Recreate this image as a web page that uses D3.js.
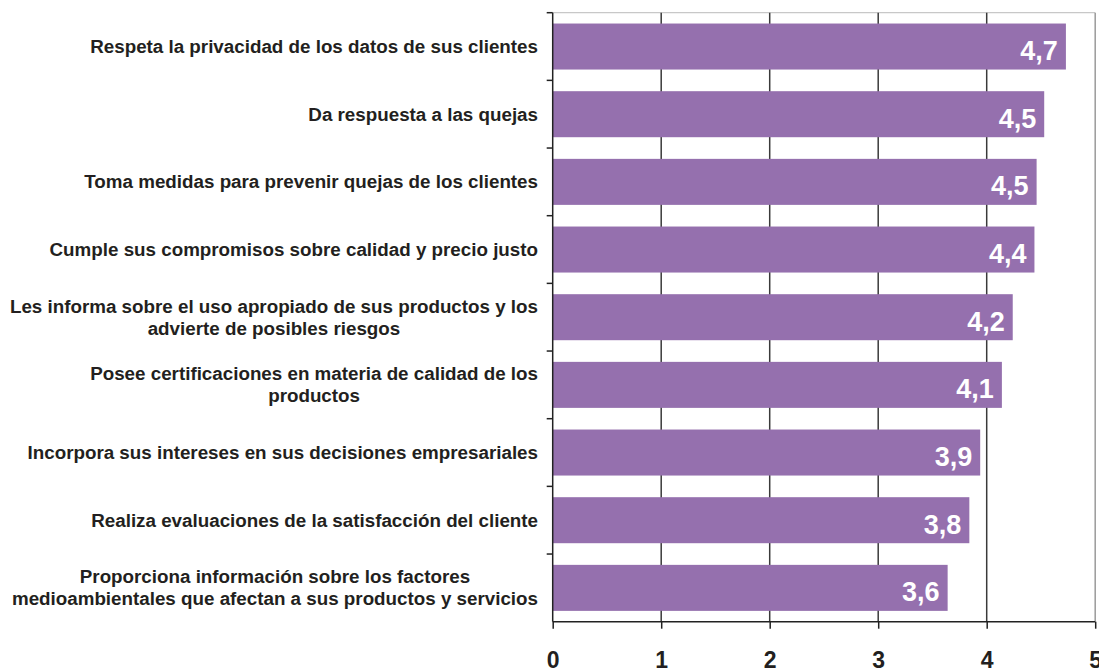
<!DOCTYPE html>
<html>
<head>
<meta charset="utf-8">
<script src="https://cdn.jsdelivr.net/npm/d3@7"></script>
<style>
  body { margin: 0; background: #fff; }
  svg { display: block; font-family: "Liberation Sans", Arial, sans-serif; }
</style>
</head>
<body>
<div id="root"></div>
<script>
const categories = [
  ["Respeta la privacidad de los datos de sus clientes"],
  ["Da respuesta a las quejas"],
  ["Toma medidas para prevenir quejas de los clientes"],
  ["Cumple sus compromisos sobre calidad y precio justo"],
  ["Les informa sobre el uso apropiado de sus productos y los", "advierte de posibles riesgos"],
  ["Posee certificaciones en materia de calidad de los", "productos"],
  ["Incorpora sus intereses en sus decisiones empresariales"],
  ["Realiza evaluaciones de la satisfacción del cliente"],
  ["Proporciona información sobre los factores", "medioambientales que afectan a sus productos y servicios"]
];
const values = [4.73, 4.53, 4.46, 4.44, 4.24, 4.14, 3.94, 3.84, 3.64];
const xTicks = [0, 1, 2, 3, 4, 5];

const width = 1099, height = 670;
const plotLeft = 552.7, plotRight = 1095.2, plotTop = 12.7, plotBottom = 621.7;

const svg = d3.select("#root").append("svg")
  .attr("width", width)
  .attr("height", height);

const x = d3.scaleLinear().domain([0, 5]).range([plotLeft, plotRight]);
const y = d3.scaleBand()
  .domain(d3.range(categories.length))
  .range([plotTop, plotBottom])
  .paddingInner(0.32)
  .paddingOuter(0.16);

const es = d3.formatLocale({ decimal: ",", thousands: ".", grouping: [3], currency: ["", " €"] });
const fmt = es.format(".1f");

// frame: light top border, gray right border
svg.append("line")
  .attr("x1", plotLeft).attr("x2", plotRight)
  .attr("y1", plotTop).attr("y2", plotTop)
  .attr("stroke", "#c8c8c8").attr("stroke-width", 1.2);
svg.append("line")
  .attr("x1", plotRight).attr("x2", plotRight)
  .attr("y1", plotTop).attr("y2", plotBottom)
  .attr("stroke", "#9a9a9a").attr("stroke-width", 1.5);

// vertical gridlines
svg.append("g")
  .selectAll("line")
  .data(xTicks.filter(d => d > 0 && d < 5))
  .join("line")
  .attr("x1", d => x(d)).attr("x2", d => x(d))
  .attr("y1", plotTop).attr("y2", plotBottom)
  .attr("stroke", "#3a3a3a").attr("stroke-width", 1.5);

// bars
svg.append("g")
  .selectAll("rect")
  .data(values)
  .join("rect")
  .attr("x", x(0))
  .attr("y", (d, i) => y(i))
  .attr("width", d => x(d) - x(0))
  .attr("height", y.bandwidth())
  .attr("fill", "#9570ae");

// value labels
svg.append("g")
  .selectAll("text")
  .data(values)
  .join("text")
  .attr("x", d => x(d) - 8)
  .attr("y", (d, i) => y(i) + y.bandwidth() / 2 + 13.5)
  .attr("text-anchor", "end")
  .attr("fill", "#fff")
  .attr("font-size", 27)
  .attr("font-weight", "bold")
  .text(d => fmt(d));

// left axis with category boundary ticks
const step = (plotBottom - plotTop) / categories.length;
const yAxis = svg.append("g");
yAxis.append("line")
  .attr("x1", plotLeft).attr("x2", plotLeft)
  .attr("y1", plotTop).attr("y2", plotBottom)
  .attr("stroke", "#222").attr("stroke-width", 1.5);
yAxis.selectAll("line.tick")
  .data(d3.range(categories.length))
  .join("line")
  .attr("class", "tick")
  .attr("x1", plotLeft - 6).attr("x2", plotLeft)
  .attr("y1", i => plotTop + i * step).attr("y2", i => plotTop + i * step)
  .attr("stroke", "#222").attr("stroke-width", 1.5);

// category labels
const labels = svg.append("g")
  .selectAll("text")
  .data(categories)
  .join("text")
  .attr("text-anchor", "middle")
  .attr("fill", "#231f20")
  .attr("font-size", 18.8)
  .attr("font-weight", "bold");

labels.each(function (lines, i) {
  const cy = y(i) + y.bandwidth() / 2;
  const lh = 22;
  const t = d3.select(this);
  lines.forEach((ln, k) => {
    t.append("tspan")
      .attr("y", cy + 6.5 + (k - (lines.length - 1) / 2) * lh)
      .text(ln);
  });
});

// center multi-line blocks and right-align them at x = 538
labels.each(function () {
  const spans = d3.select(this).selectAll("tspan").nodes();
  const w = d3.max(spans, s => s.getComputedTextLength());
  spans.forEach(s => d3.select(s).attr("x", 538 - w / 2));
});

// bottom axis
const xAxis = d3.axisBottom(x)
  .tickValues(xTicks)
  .tickSize(7)
  .tickFormat(d3.format("d"));
const gx = svg.append("g")
  .attr("transform", `translate(0,${plotBottom})`)
  .call(xAxis);
gx.select(".domain")
  .attr("stroke", "#222").attr("stroke-width", 1.5)
  .attr("d", `M${plotLeft},0H${plotRight}`);
gx.selectAll(".tick line").attr("stroke", "#222").attr("stroke-width", 1.5);
gx.selectAll(".tick text")
  .attr("y", 46.3)
  .attr("dy", 0)
  .attr("fill", "#231f20")
  .attr("font-size", 23)
  .attr("font-weight", "bold")
  .attr("font-family", "Liberation Sans, Arial, sans-serif");
</script>
</body>
</html>
